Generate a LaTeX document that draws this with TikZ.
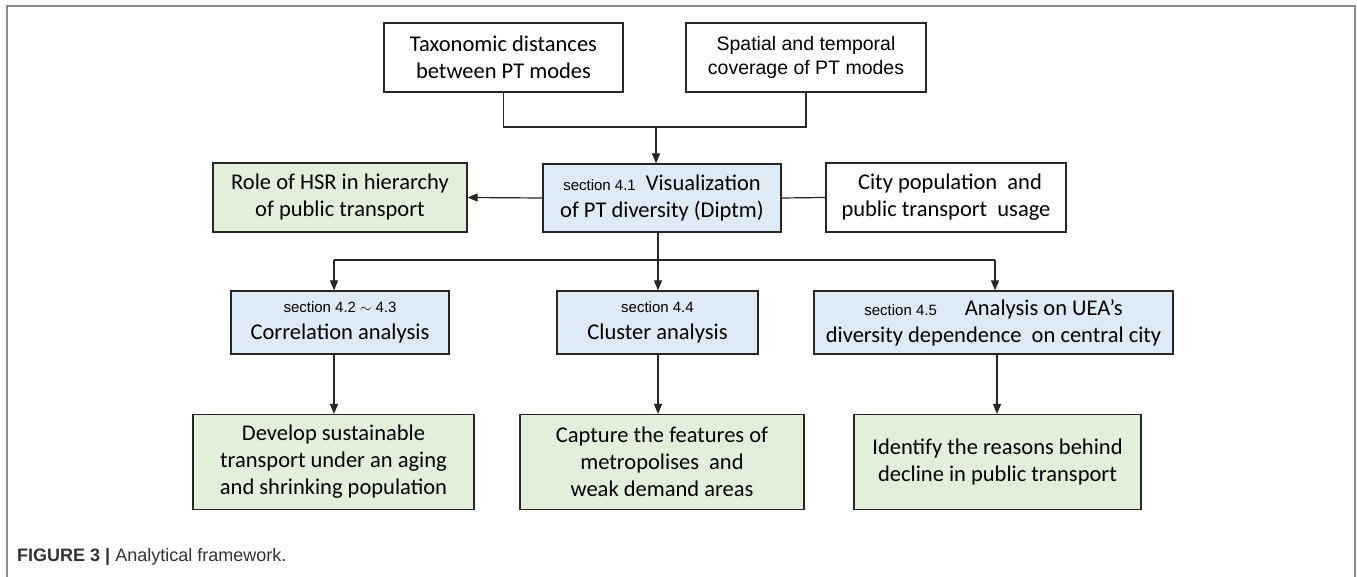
\documentclass[tikz,border=0pt]{standalone}
\usepackage{fontspec}
\setmainfont{Carlito}
\newfontfamily\arialf{Liberation Sans}
\usetikzlibrary{arrows.meta}
\definecolor{bluef}{HTML}{DEEBF7}
\definecolor{greenf}{HTML}{E2EFDA}
\definecolor{edgec}{HTML}{262626}
\definecolor{framec}{HTML}{8A8A8A}
\definecolor{captc}{HTML}{333333}
\newcommand\secf{\arialf\fontsize{15}{17}\selectfont}
\begin{document}
\begin{tikzpicture}[x=1pt,y=-1pt,
  box/.style={draw=edgec, line width=1.2pt, inner sep=0pt, align=center,
    font=\fontsize{22.5}{27}\selectfont, text=black},
  bluebox/.style={box, fill=bluef},
  greenbox/.style={box, fill=greenf},
  arialbox/.style={box, font=\arialf\fontsize{19.5}{23.5}\selectfont},
  conn/.style={draw=edgec, line width=1.2pt},
  arr/.style={conn, -{Triangle[length=10pt,width=8pt]}}]
\useasboundingbox (0,0) rectangle (1357,577);
\fill[white] (0,0) rectangle (1357,577);
% frame
\draw[framec, line width=1.2pt] (7,580) -- (7,6) -- (1355,6) -- (1355,580);

% top row
\node[box, minimum width=239pt, minimum height=69pt] (tax) at (503.5,57.5)
  {Taxonomic distances\\between PT modes};
\node[arialbox, minimum width=240pt, minimum height=69pt] (spa) at (806,57.5)
  {Spatial and temporal\\coverage of PT modes};

% second row
\node[bluebox, minimum width=238pt, minimum height=68pt] (viz) at (662,198)
  {{\secf section 4.1}\hspace{10pt}Visualization\\of PT diversity (Diptm)};
\node[greenbox, minimum width=254pt, minimum height=69pt] (role) at (340,197.5)
  {Role of HSR in hierarchy\\of public transport};
\node[box, minimum width=240pt, minimum height=69pt] (city) at (946,197.5)
  {\hspace{8pt}City population\ \ and\\public transport\ \ usage};

% third row
\node[bluebox, minimum width=218pt, minimum height=63pt] (corr) at (340,322.5)
  {{\secf section 4.2 $\sim$ 4.3}\hspace{8pt}\\Correlation analysis};
\node[bluebox, minimum width=201pt, minimum height=63pt] (clus) at (657.5,322.5)
  {{\secf section 4.4}\\Cluster analysis};
\node[bluebox, minimum width=359pt, minimum height=63pt] (uea) at (993.5,322.5)
  {{\secf section 4.5}\hspace{28pt}Analysis on UEA’s\\diversity dependence\ \ on central city};

% fourth row
\node[greenbox, minimum width=281pt, minimum height=95pt] (dev) at (333.5,462)
  {Develop sustainable\\transport under an aging\\and shrinking population};
\node[greenbox, minimum width=284pt, minimum height=95pt] (cap) at (662,462)
  {Capture the features of\\metropolises\ \ and\\weak demand areas};
\node[greenbox, minimum width=287pt, minimum height=95pt] (ide) at (997.5,462)
  {Identify the reasons behind\\decline in public transport};

% connectors
\coordinate (j1) at (656,127);
\draw[conn] (tax.south) -- (tax.south |- j1) -| (spa.south);
\draw[arr] (j1) -- (j1 |- viz.north);
\draw[arr] (viz.west) -- (role.east);
\draw[conn] (viz.east) -- (city.west);

\coordinate (c1) at (334,260);
\coordinate (c2) at (658,260);
\coordinate (c3) at (995,260);
\draw[conn] (c2 |- viz.south) -- (c2);
\draw[conn] (c1) -- (c3);
\draw[arr] (c1) -- (c1 |- corr.north);
\draw[arr] (c2) -- (c2 |- clus.north);
\draw[arr] (c3) -- (c3 |- uea.north);
\draw[arr] (c1 |- corr.south) -- (c1 |- dev.north);
\draw[arr] (c2 |- clus.south) -- (c2 |- cap.north);
\coordinate (c4) at (997,260);
\draw[arr] (c4 |- uea.south) -- (c4 |- ide.north);

% caption
\node[anchor=west, inner sep=0pt, text=captc,
  font=\arialf\fontsize{18}{20}\selectfont] (capt) at (17,557)
  {\textbf{FIGURE 3 |} Analytical framework.};
\end{tikzpicture}
\end{document}
